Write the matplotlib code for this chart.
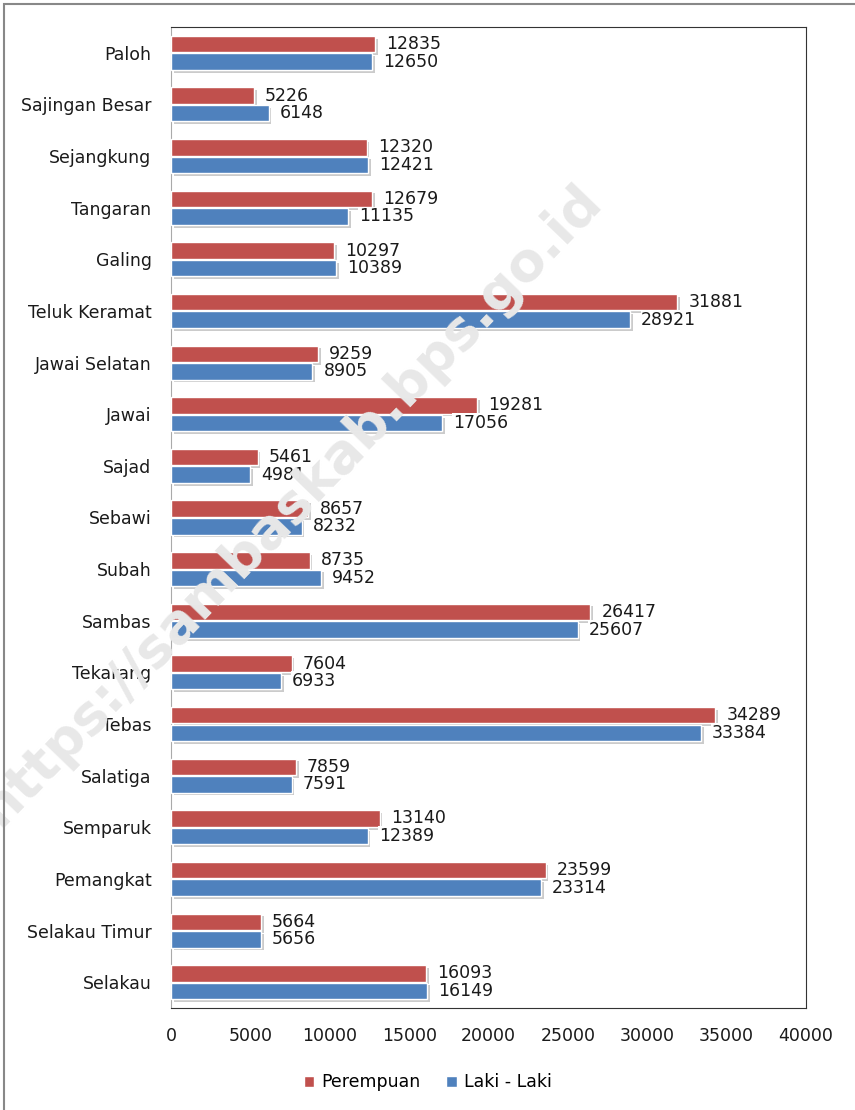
import numpy as np
import matplotlib
matplotlib.use("Agg")
import matplotlib.pyplot as plt
import matplotlib.patheffects as pe
from matplotlib.patches import Rectangle

kecamatan = ["Paloh", "Sajingan Besar", "Sejangkung", "Tangaran", "Galing",
             "Teluk Keramat", "Jawai Selatan", "Jawai", "Sajad", "Sebawi",
             "Subah", "Sambas", "Tekarang", "Tebas", "Salatiga", "Semparuk",
             "Pemangkat", "Selakau Timur", "Selakau"]
perempuan = [12835, 5226, 12320, 12679, 10297, 31881, 9259, 19281, 5461, 8657,
             8735, 26417, 7604, 34289, 7859, 13140, 23599, 5664, 16093]
laki = [12650, 6148, 12421, 11135, 10389, 28921, 8905, 17056, 4981, 8232,
        9452, 25607, 6933, 33384, 7591, 12389, 23314, 5656, 16149]
xticks = [0, 5000, 10000, 15000, 20000, 25000, 30000, 35000, 40000]

red = "#C0504D"
blue = "#4F81BD"

plt.rcParams['font.family'] = ['DejaVu Sans']

fig = plt.figure(figsize=(8.55, 11.10), dpi=100)

# watermark behind the chart
fig.text(0.34, 0.545, "https://sambaskab.bps.go.id", fontsize=39, fontweight="bold",
         color="#e8e8e8", rotation=46, ha="center", va="center", zorder=0)

ax = fig.add_axes([0.2, 0.0919, 0.7427, 0.8838])
ax.set_facecolor("none")

y = np.arange(len(kecamatan))
h = 0.32
shadow = [pe.SimplePatchShadow(offset=(2, -2), shadow_rgbFace="#999999", alpha=0.5), pe.Normal()]
b1 = ax.barh(y - h / 2 - 0.01, perempuan, height=h, color=red, edgecolor="white",
             linewidth=1, label="Perempuan", zorder=3)
b2 = ax.barh(y + h / 2 + 0.01, laki, height=h, color=blue, edgecolor="white",
             linewidth=1, label="Laki - Laki", zorder=3)
for b in list(b1) + list(b2):
    b.set_path_effects(shadow)

box = dict(facecolor="white", edgecolor="none", pad=0.5)
for i in range(len(kecamatan)):
    ax.text(perempuan[i] + 700, y[i] - h / 2 - 0.01, str(perempuan[i]), va="center",
            ha="left", fontsize=12.5, color="#1a1a1a", bbox=box, zorder=4)
    ax.text(laki[i] + 700, y[i] + h / 2 + 0.01, str(laki[i]), va="center",
            ha="left", fontsize=12.5, color="#1a1a1a", bbox=box, zorder=4)

ax.set_xlim(0, 40000)
ax.set_ylim(len(kecamatan) - 0.5, -0.5)
ax.set_yticks(y)
ax.set_yticklabels(kecamatan, fontsize=12.5, color="#1a1a1a")
ax.set_xticks(xticks)
ax.set_xticklabels([str(v) for v in xticks], fontsize=12.5, color="#1a1a1a")
ax.tick_params(axis="both", length=0)
ax.tick_params(axis="x", pad=14)
ax.tick_params(axis="y", pad=14)
for s in ["top", "right", "bottom"]:
    ax.spines[s].set_color("#333333")
    ax.spines[s].set_linewidth(0.8)
ax.spines["left"].set_color("#aaaaaa")

leg = fig.legend(handles=[b1, b2], loc="center", bbox_to_anchor=(0.5, 0.025), ncol=2,
                 frameon=False, fontsize=12.5, handlelength=0.6, handleheight=0.6,
                 columnspacing=1.5, handletextpad=0.4)
for p in leg.get_patches():
    p.set_path_effects([])

fig.patches.append(Rectangle((0.005, -0.01), 1.2, 1.006, transform=fig.transFigure,
                             fill=False, edgecolor="#888888", linewidth=1.5))

fig.savefig("out.png", dpi=100)
